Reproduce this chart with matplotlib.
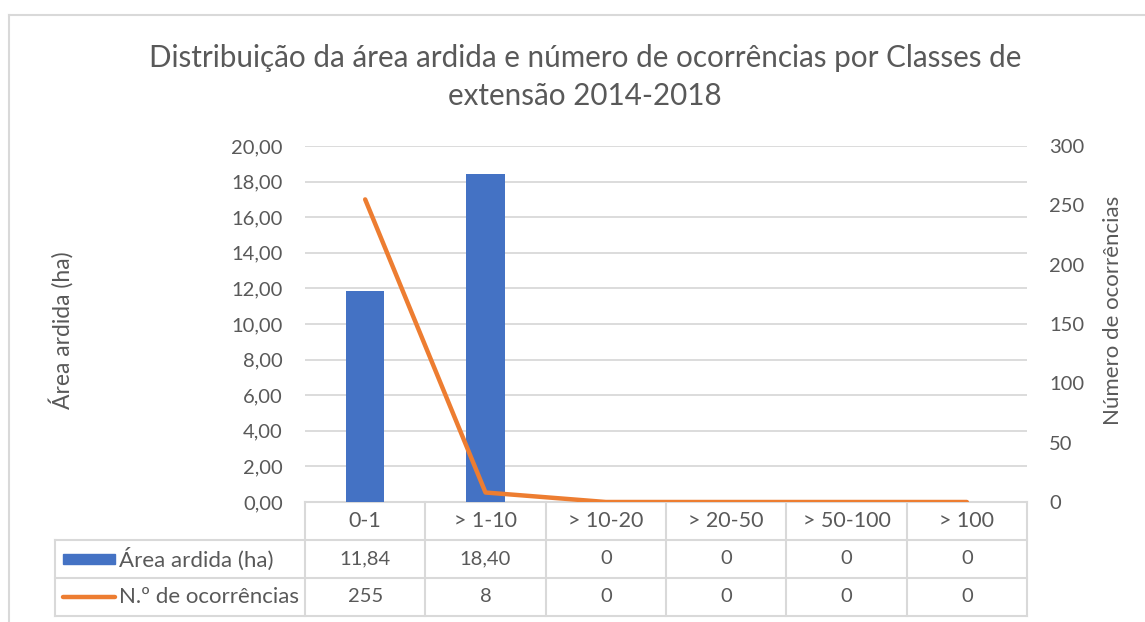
import numpy as np
import matplotlib.pyplot as plt
from matplotlib.lines import Line2D
from matplotlib.patches import Rectangle

# ----------------------------
# Dados
# ----------------------------
classes = ["0-1", "> 1-10", "> 10-20", "> 20-50", "> 50-100", "> 100"]
area_ardida = [11.84, 18.40, 0, 0, 0, 0]
ocorrencias = [255, 8, 0, 0, 0, 0]
area_txt = ["11,84", "18,40", "0", "0", "0", "0"]
ocorr_txt = ["255", "8", "0", "0", "0", "0"]
serie_area = "Área ardida (ha)"
serie_ocorr = "N.º de ocorrências"
titulo = "Distribuição da área ardida e número de ocorrências por Classes de\nextensão 2014-2018"

AZUL = "#4472C4"
LARANJA = "#ED7D31"
CINZA_TXT = "#595959"
CINZA_GRID = "#D9D9D9"

plt.rcParams["font.family"] = ["Lato", "DejaVu Sans"]

W, H = 1145, 622
fig = plt.figure(figsize=(W / 100, H / 100), dpi=100)

# area do grafico em pixels
x0, x1, y_top, y_bot = 305, 1027, 146, 502
ax = fig.add_axes([x0 / W, (H - y_bot) / H, (x1 - x0) / W, (y_bot - y_top) / H])
ax2 = ax.twinx()

x = np.arange(len(classes))
ax.bar(x, area_ardida, width=0.32, color=AZUL, zorder=3)
ax.set_xlim(-0.5, len(classes) - 0.5)
ax.set_ylim(0, 20)
ax.set_yticks(np.arange(0, 21, 2))
ax.set_yticklabels([f"{v:.2f}".replace(".", ",") for v in np.arange(0, 21, 2)])
ax.yaxis.grid(True, color=CINZA_GRID, lw=1.3, zorder=0)
ax.set_axisbelow(True)
ax.set_xticks([])

ax2.plot(x, ocorrencias, color=LARANJA, lw=3.2, solid_capstyle="round", zorder=4)
ax2.set_ylim(0, 300)
ax2.set_yticks(np.arange(0, 301, 50))

for a in (ax, ax2):
    for s in a.spines.values():
        s.set_visible(False)
    a.tick_params(length=0, labelsize=14.5, labelcolor=CINZA_TXT)
ax.tick_params(axis="y", pad=16)
ax2.tick_params(axis="y", pad=16)

ax.set_ylabel("Área ardida (ha)", fontsize=16.5, color=CINZA_TXT)
ax.yaxis.set_label_coords((74 - x0) / (x1 - x0), 0.483)
ax2.set_ylabel("Número de ocorrências", fontsize=16, color=CINZA_TXT)
ax2.yaxis.set_label_coords((1103 - x0) / (x1 - x0), 0.539)

# ----------------------------
# Tabela de dados
# ----------------------------
row_h = 38 / (y_bot - y_top)          # altura de linha em coordenadas do eixo
lab_left = (55 - x0) / (x1 - x0)      # inicio da coluna de legenda
trans = ax.get_xaxis_transform()      # x em dados, y em eixo
tkw = dict(color=CINZA_TXT, ha="center", va="center", clip_on=False)
lkw = dict(color=CINZA_GRID, lw=1.5, clip_on=False, zorder=1)

n = len(classes)
# linhas horizontais
ax.add_line(Line2D([-0.5, n - 0.5], [0, 0], transform=trans, **lkw))
for k in (1, 2, 3):
    ax.add_line(Line2D([lab_left, 1], [-k * row_h] * 2, transform=ax.transAxes, **lkw))
# linhas verticais
for i in range(n + 1):
    ax.add_line(Line2D([i - 0.5] * 2, [0, -3 * row_h], transform=trans, **lkw))
ax.add_line(Line2D([lab_left] * 2, [-row_h, -3 * row_h], transform=ax.transAxes, **lkw))

for i in range(n):
    ax.text(i, -0.5 * row_h, classes[i], transform=trans, fontsize=15.5, **tkw)
    ax.text(i, -1.5 * row_h, area_txt[i], transform=trans, fontsize=14.5, **tkw)
    ax.text(i, -2.5 * row_h, ocorr_txt[i], transform=trans, fontsize=14.5, **tkw)

# chaves de legenda
kx0 = (63 - x0) / (x1 - x0)
kx1 = (115 - x0) / (x1 - x0)
ax.add_patch(Rectangle((kx0, -1.5 * row_h - 0.013), kx1 - kx0, 0.026,
                       transform=ax.transAxes, color=AZUL, clip_on=False))
ax.add_line(Line2D([kx0, kx1], [-2.5 * row_h] * 2, transform=ax.transAxes,
                   color=LARANJA, lw=3.2, solid_capstyle="round", clip_on=False))
tx = (119 - x0) / (x1 - x0)
ax.text(tx, -1.5 * row_h, serie_area, transform=ax.transAxes, fontsize=16,
        color=CINZA_TXT, ha="left", va="center", clip_on=False)
ax.text(tx, -2.5 * row_h, serie_ocorr, transform=ax.transAxes, fontsize=16,
        color=CINZA_TXT, ha="left", va="center", clip_on=False)

# titulo
fig.text(585 / W, 1 - 77 / H, titulo, fontsize=21.3, color=CINZA_TXT,
         ha="center", va="center", linespacing=1.42)

# moldura do grafico
fig.add_artist(Line2D([9 / W, 9 / W], [0, 1 - 15 / H], color=CINZA_GRID, lw=1.5))
fig.add_artist(Line2D([9 / W, 1], [1 - 15 / H, 1 - 15 / H], color=CINZA_GRID, lw=1.5))

fig.savefig("out.png", dpi=100)
